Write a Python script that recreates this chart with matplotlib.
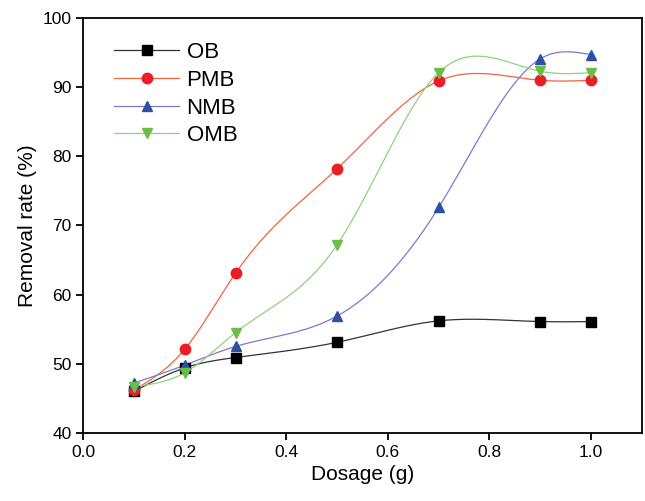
import numpy as np
import matplotlib
matplotlib.use("Agg")
import matplotlib.pyplot as plt

plt.rcParams['font.family'] = ['Liberation Sans', 'DejaVu Sans']

# dosage (g) and removal rate (%)
dosage = [0.1, 0.2, 0.3, 0.5, 0.7, 0.9, 1.0]
ob = [46.0, 49.4, 50.9, 53.1, 56.2, 56.1, 56.1]
pmb = [46.2, 52.1, 63.1, 78.2, 90.9, 91.0, 91.0]
nmb = [47.2, 49.8, 52.5, 56.9, 72.6, 94.1, 94.7]
omb = [46.7, 48.7, 54.5, 67.2, 92.1, 92.3, 92.1]


def natural_spline(x, y, n=300):
    # natural cubic spline through the points, for the smooth connecting line
    x = np.asarray(x, float)
    y = np.asarray(y, float)
    k = len(x)
    h = np.diff(x)
    A = np.zeros((k, k))
    b = np.zeros(k)
    A[0, 0] = A[-1, -1] = 1
    for i in range(1, k - 1):
        A[i, i - 1] = h[i - 1]
        A[i, i] = 2 * (h[i - 1] + h[i])
        A[i, i + 1] = h[i]
        b[i] = 3 * ((y[i + 1] - y[i]) / h[i] - (y[i] - y[i - 1]) / h[i - 1])
    c = np.linalg.solve(A, b)
    xs = np.linspace(x[0], x[-1], n)
    idx = np.clip(np.searchsorted(x, xs) - 1, 0, k - 2)
    dx = xs - x[idx]
    hi = h[idx]
    bb = (y[idx + 1] - y[idx]) / hi - hi * (2 * c[idx] + c[idx + 1]) / 3
    dd = (c[idx + 1] - c[idx]) / (3 * hi)
    ys = y[idx] + bb * dx + c[idx] * dx ** 2 + dd * dx ** 3
    return xs, ys


series = [
    ('OB', ob, 's', '#000000', '#333333'),
    ('PMB', pmb, 'o', '#ee1c24', '#f0633f'),
    ('NMB', nmb, '^', '#2e4fa3', '#7a7acc'),
    ('OMB', omb, 'v', '#6cbd45', '#8fd27a'),
]

fig = plt.figure(figsize=(6.45, 5.01), dpi=100)
ax = fig.add_axes([0.129, 0.136, 0.866, 0.828])

for name, vals, mk, mcol, lcol in series:
    xs, ys = natural_spline(dosage, vals)
    ax.plot(xs, ys, color=lcol, lw=0.9, zorder=2)
    ax.plot(dosage, vals, linestyle='none', marker=mk, color=mcol,
            markersize=7.5, zorder=3)
    # legend proxy
    ax.plot([], [], color=lcol, lw=0.9, marker=mk, markerfacecolor=mcol,
            markeredgecolor=mcol, markersize=7.5, label=name)

ax.set_xlim(0, 1.1)
ax.set_ylim(40, 100)
ax.set_xticks([0.0, 0.2, 0.4, 0.6, 0.8, 1.0])
ax.set_yticks(range(40, 101, 10))
ax.set_xlabel('Dosage (g)', fontsize=15)
ax.set_ylabel('Removal rate (%)', fontsize=15)
ax.tick_params(direction='out', length=5, width=1.3, labelsize=12.5)
for s in ax.spines.values():
    s.set_linewidth(1.3)

ax.legend(loc='upper left', bbox_to_anchor=(0.02, 0.99), frameon=False,
          fontsize=16, handlelength=2.9, labelspacing=0.3, handletextpad=0.35)

fig.savefig('out.png', dpi=100)
